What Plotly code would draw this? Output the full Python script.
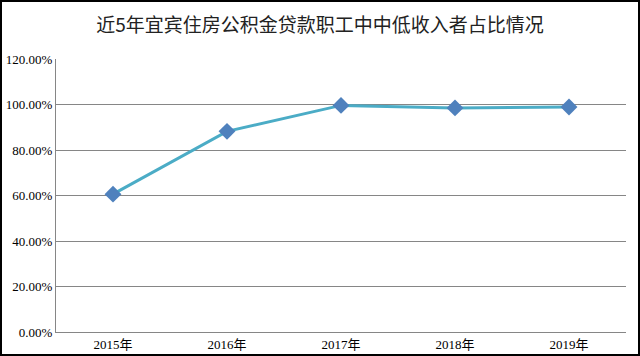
import plotly.graph_objects as go

years = ["2015年", "2016年", "2017年", "2018年", "2019年"]
shares = [60.6, 88.2, 99.6, 98.5, 98.9]
y_ticks = [0, 20, 40, 60, 80, 100, 120]
y_tick_labels = ["0.00%", "20.00%", "40.00%", "60.00%", "80.00%", "100.00%", "120.00%"]
title_text = "近5年宜宾住房公积金贷款职工中中低收入者占比情况"

W, H = 640, 356
L, R, T, B = 56, 14, 59, 24
pw, ph = W - L - R, H - T - B

fig = go.Figure()
fig.add_trace(go.Scatter(
    x=years, y=shares, mode="lines+markers",
    line=dict(color="#4BACC6", width=3),
    marker=dict(symbol="diamond", size=13, color="#4F81BD"),
    hoverinfo="x+y",
))

serif = "Liberation Serif, Noto Sans CJK SC, serif"
fig.update_layout(
    width=W, height=H,
    margin=dict(l=L, r=R, t=T, b=B, autoexpand=False),
    paper_bgcolor="white", plot_bgcolor="white",
    showlegend=False,
    title=dict(text=title_text, x=0.5, xanchor="center", y=1 - 25 / H, yanchor="middle",
               font=dict(family="Noto Sans CJK SC", size=19, color="#222222")),
    xaxis=dict(type="category", showgrid=False, showline=True, linecolor="#868686", linewidth=1,
               ticks="", tickfont=dict(family=serif, size=13, color="#000000"),
               range=[-0.5, 4.5], fixedrange=True, automargin=False),
    yaxis=dict(range=[0, 120], tickvals=y_ticks, ticktext=y_tick_labels,
               showgrid=True, gridcolor="#868686", gridwidth=1,
               showline=True, linecolor="#868686", linewidth=1, zeroline=False,
               ticks="", tickfont=dict(family=serif, size=13, color="#000000"),
               fixedrange=True, automargin=False),
    shapes=[dict(type="rect", xref="paper", yref="paper",
                 x0=(1 - L) / pw, x1=(W - 1 - L) / pw,
                 y0=(H - B - (H - 1)) / ph, y1=(H - B - 1) / ph,
                 line=dict(color="black", width=2), fillcolor="rgba(0,0,0,0)", layer="above")],
)

fig.write_html("out.html", config={"displayModeBar": False},
               post_script="document.body.style.margin='0';")
